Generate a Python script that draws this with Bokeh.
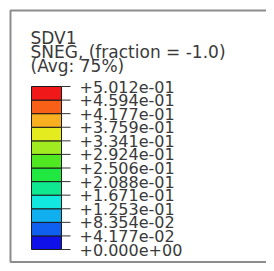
from bokeh.plotting import figure
from bokeh.models import Range1d
from bokeh.core.properties import value
from bokeh.embed import file_html
from bokeh.resources import INLINE

# ---- data ----
title_lines = ["SDV1", "SNEG, (fraction = -1.0)", "(Avg: 75%)"]
levels = [0.0, 0.04177, 0.08354, 0.1253, 0.1671, 0.2088, 0.2506,
          0.2924, 0.3341, 0.3759, 0.4177, 0.4594, 0.5012]
level_labels = ["+0.000e+00", "+4.177e-02", "+8.354e-02", "+1.253e-01",
                "+1.671e-01", "+2.088e-01", "+2.506e-01", "+2.924e-01",
                "+3.341e-01", "+3.759e-01", "+4.177e-01", "+4.594e-01",
                "+5.012e-01"]
band_colors = ["#1010E8", "#1060F0", "#10B0F0", "#10E8E0", "#10E890", "#20E840",
               "#50E820", "#A0EC20", "#E4EC20", "#F8B020", "#F86018", "#F01818"]

# ---- layout (pixel geometry) ----
W, H = 266, 263
BAR_TOP_PX, BAR_BOT_PX = 86, 249
vmax = levels[-1]

def py(y_img):
    return (BAR_BOT_PX - y_img) / (BAR_BOT_PX - BAR_TOP_PX) * vmax

p = figure(width=W, height=H, output_backend="svg", toolbar_location=None,
           x_range=Range1d(0, W), y_range=Range1d(py(H), py(0)),
           x_axis_location=None, y_axis_location=None, min_border=0)
p.outline_line_color = None
p.xgrid.visible = False
p.ygrid.visible = False
p.background_fill_color = "white"
p.border_fill_color = "white"

# frame border (left, top, bottom)
p.line(x=[300, 10, 10, 300], y=[py(10), py(10), py(261.5), py(261.5)],
       line_color="#8c8c8c", line_width=2)

# colour bands
p.quad(left=31, right=61, bottom=levels[:-1], top=levels[1:],
       fill_color=band_colors, line_color="#1a1a1a", line_width=1)

# ticks
p.segment(x0=61, x1=70, y0=levels, y1=levels, line_color="#333333", line_width=1)

# labels
p.text(x=79, y=levels, text=level_labels, text_baseline="middle",
       text_font=value("DejaVu Sans"), text_font_size="16px", text_color="#3a3a3a")

# title
p.text(x=30, y=[py(37), py(51), py(65)], text=title_lines, text_baseline="alphabetic",
       text_font=value("DejaVu Sans"), text_font_size="17px", text_color="#3a3a3a")

open("out.html", "w").write(file_html(p, INLINE))
